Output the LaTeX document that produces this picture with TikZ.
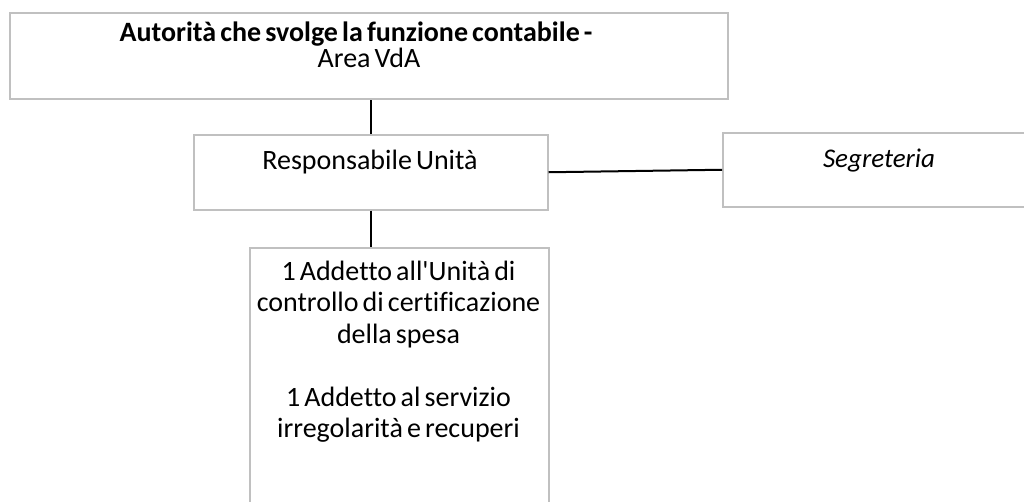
\documentclass[tikz,border=0pt]{standalone}
\usepackage{fontspec}
\setmainfont{Carlito}[Ligatures={NoCommon},WordSpace={0.65}]
\begin{document}
\begin{tikzpicture}[x=1pt,y=-1pt,
  box/.style={draw=boxgray,line width=1.5pt,fill=white,inner sep=0pt,anchor=north west},
  conn/.style={draw=black,line width=2pt},
  txt/.style={inner sep=0pt,anchor=base,text=black,font=\fontsize{28}{31}\selectfont}]
\definecolor{boxgray}{HTML}{C0C0C0}
\useasboundingbox (0,0) rectangle (1024,501);
\clip (0,0) rectangle (1024,501);
% boxes
\node[box,minimum width=718pt,minimum height=86pt] (top) at (9,12) {};
\node[box,minimum width=354pt,minimum height=75pt] (resp) at (193,134) {};
\node[box,minimum width=314pt,minimum height=74pt] (seg) at (722,132) {};
\node[box,minimum width=299pt,minimum height=300pt] (staff) at (249,247) {};
% texts
\node[txt,font=\fontsize{28}{31}\selectfont\bfseries] (topA) at (356,41) {Autorità che svolge la funzione contabile -};
\node[txt] (topB) at (369,67) {Area VdA};
\node[txt] (resptext) at (370,169) {Responsabile Unità};
\node[txt,font=\fontsize{27}{31}\selectfont\itshape] (segtext) at (879,167) {Segreteria};
\node[txt] (s1) at (398.5,280) {1 Addetto all\textquotesingle Unità di};
\node[txt] (s2) at (398.5,311.5) {controllo di certificazione};
\node[txt] (s3) at (398.5,343) {della spesa};
\node[txt] (s4) at (398.5,406) {1 Addetto al servizio};
\node[txt] (s5) at (398.5,437.5) {irregolarità e recuperi};
% connectors
\draw[conn] (resp.north) -- (resp.north |- top.south);
\draw[conn] (resp.south) -- (resp.south |- staff.north);
\draw[conn] (resp.east) -- (seg.west);
\end{tikzpicture}
\end{document}
